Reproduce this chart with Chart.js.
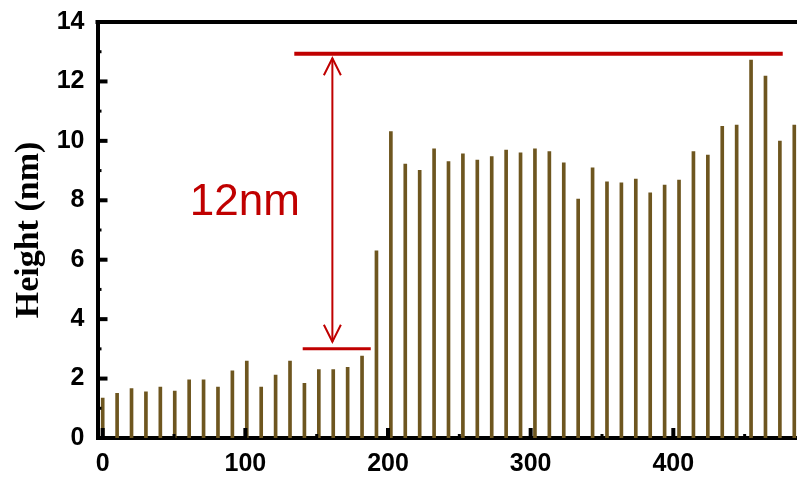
<!DOCTYPE html>
<html>
<head>
<meta charset="utf-8">
<script src="https://cdn.jsdelivr.net/npm/chart.js@4.4.1/dist/chart.umd.min.js"></script>
<style>
  html, body { margin: 0; padding: 0; background: #fff; }
  canvas { display: block; }
</style>
</head>
<body>
<canvas id="perfil-altura" width="797" height="483"></canvas>
<script>
// Posições do perfil (nm) e alturas medidas (nm)
const posicoes = [0, 10.1, 20.2, 30.3, 40.4, 50.5, 60.6, 70.7, 80.8, 90.9,
  101.0, 111.1, 121.2, 131.3, 141.4, 151.5, 161.6, 171.7, 181.8, 191.9,
  202.0, 212.1, 222.2, 232.3, 242.4, 252.5, 262.6, 272.7, 282.8, 292.9,
  303.0, 313.1, 323.2, 333.3, 343.4, 353.5, 363.6, 373.7, 383.8, 393.9,
  404.0, 414.1, 424.2, 434.3, 444.4, 454.5, 464.6, 474.7, 484.8];
const alturas = [1.34, 1.50, 1.66, 1.55, 1.71, 1.58, 1.96, 1.96, 1.71, 2.26,
  2.59, 1.71, 2.12, 2.59, 1.84, 2.30, 2.30, 2.38, 2.76, 6.30,
  10.31, 9.22, 9.01, 9.73, 9.30, 9.56, 9.35, 9.47, 9.69, 9.60,
  9.73, 9.64, 9.26, 8.04, 9.09, 8.62, 8.59, 8.71, 8.25, 8.51,
  8.68, 9.64, 9.52, 10.49, 10.53, 12.72, 12.18, 9.99, 10.53];

// Marcas dos eixos
const ticksX = [0, 100, 200, 300, 400];
const ticksXMenores = [50, 150, 250, 350, 450];
const ticksY = [0, 2, 4, 6, 8, 10, 12, 14];
const ticksYMenores = [1, 3, 5, 7, 9, 11, 13];

// Anotação do degrau: linhas de referência, seta e rótulo
const nivelTopo = { y: 12.93, x0: 134.3, x1: 476.7 };
const nivelBase = { y: 3.0, x0: 140.2, x1: 187.9 };
const seta = { x: 161.0, yTopo: 12.78, yBase: 3.24 };
const rotulo = { texto: '12nm', x: 61, y: 7.5 };

const vermelho = '#c00000';

function linha(ctx, x0, y0, x1, y1) {
  ctx.beginPath();
  ctx.moveTo(x0, y0);
  ctx.lineTo(x1, y1);
  ctx.stroke();
}

const extras = {
  id: 'extras',
  afterDatasetsDraw(chart) {
    const { ctx, chartArea: area, scales: { x, y } } = chart;
    ctx.save();
    ctx.strokeStyle = '#000';
    ctx.lineCap = 'butt';

    // Moldura superior
    ctx.lineWidth = 4;
    linha(ctx, area.left - 2, area.top, area.right, area.top);

    // Ticks internos do eixo Y
    ctx.lineWidth = 4;
    ticksY.forEach(v => {
      const py = y.getPixelForValue(v);
      linha(ctx, area.left, py, area.left + 10, py);
    });
    ctx.lineWidth = 3;
    ticksYMenores.forEach(v => {
      const py = y.getPixelForValue(v);
      linha(ctx, area.left, py, area.left + 4, py);
    });

    // Ticks internos do eixo X
    ctx.lineWidth = 4;
    ticksX.forEach(v => {
      const px = x.getPixelForValue(v);
      linha(ctx, px, area.bottom, px, area.bottom - 10);
    });
    ctx.lineWidth = 3;
    ticksXMenores.forEach(v => {
      const px = x.getPixelForValue(v);
      linha(ctx, px, area.bottom, px, area.bottom - 4);
    });

    // Linhas de nível
    ctx.strokeStyle = vermelho;
    ctx.lineWidth = 4;
    linha(ctx, x.getPixelForValue(nivelTopo.x0), y.getPixelForValue(nivelTopo.y),
      x.getPixelForValue(nivelTopo.x1), y.getPixelForValue(nivelTopo.y));
    ctx.lineWidth = 3;
    linha(ctx, x.getPixelForValue(nivelBase.x0), y.getPixelForValue(nivelBase.y),
      x.getPixelForValue(nivelBase.x1), y.getPixelForValue(nivelBase.y));

    // Seta dupla
    const sx = x.getPixelForValue(seta.x);
    const sTopo = y.getPixelForValue(seta.yTopo);
    const sBase = y.getPixelForValue(seta.yBase);
    ctx.lineWidth = 2;
    linha(ctx, sx, sTopo, sx, sBase);
    ctx.beginPath();
    ctx.moveTo(sx - 8.5, sTopo + 17); ctx.lineTo(sx, sTopo); ctx.lineTo(sx + 8.5, sTopo + 17);
    ctx.moveTo(sx - 8.5, sBase - 17); ctx.lineTo(sx, sBase); ctx.lineTo(sx + 8.5, sBase - 17);
    ctx.stroke();

    // Rótulo da altura do degrau
    ctx.fillStyle = vermelho;
    ctx.font = '44px "Liberation Sans", Arial, sans-serif';
    ctx.textAlign = 'left';
    ctx.textBaseline = 'alphabetic';
    ctx.fillText(rotulo.texto, x.getPixelForValue(rotulo.x), y.getPixelForValue(rotulo.y));
    ctx.restore();
  }
};

const fonteTicks = { family: '"Liberation Sans", Arial, sans-serif', size: 25, weight: 'bold' };

// Sem folga extra dos rótulos: a área do gráfico fica só com o padding do layout
function semFolga(s) {
  s.paddingTop = 0;
  s.paddingBottom = 0;
  s.paddingLeft = 0;
  s.paddingRight = 0;
}

new Chart(document.getElementById('perfil-altura'), {
  type: 'bar',
  data: {
    datasets: [{
      data: posicoes.map((p, i) => ({ x: p, y: alturas[i] })),
      backgroundColor: '#6e561f',  // Cor das barras
      barThickness: 3
    }]
  },
  options: {
    responsive: false,
    animation: false,
    layout: { padding: { top: 22, right: 0, left: 0, bottom: 0 } },
    plugins: {
      legend: { display: false },
      tooltip: { enabled: false }
    },
    scales: {
      x: {
        type: 'linear',
        min: -3.65,
        max: 486.7,
        offset: false,
        grid: { display: false, drawTicks: false },
        border: { display: true, color: '#000', width: 4 },
        afterBuildTicks: s => { s.ticks = ticksX.map(v => ({ value: v })); },
        afterFit: s => { s.height = 45; semFolga(s); },
        ticks: { color: '#000', font: fonteTicks, padding: 11, maxRotation: 0 }
      },
      y: {
        min: 0,
        max: 14,
        grid: { display: false, drawTicks: false },
        border: { display: true, color: '#000', width: 4 },
        afterBuildTicks: s => { s.ticks = ticksY.map(v => ({ value: v })); },
        afterFit: s => { s.width = 97.5; semFolga(s); },
        ticks: { color: '#000', font: fonteTicks, padding: 13 },
        title: {
          display: true,
          text: 'Height (nm)',  // Título do eixo Y
          color: '#000',
          font: { family: '"Liberation Serif", "Times New Roman", serif', size: 34, weight: 'bold' },
          padding: { top: 9, bottom: 0 }
        }
      }
    }
  },
  plugins: [extras]
});
</script>
</body>
</html>
